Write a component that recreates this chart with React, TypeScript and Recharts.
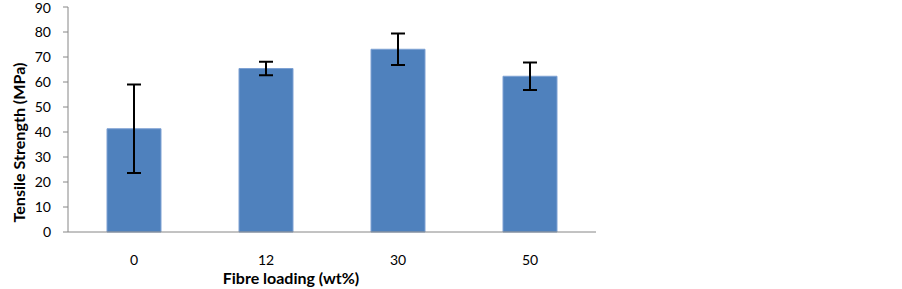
import { BarChart, Bar, XAxis, YAxis, ErrorBar } from 'recharts'

const loadings = ['0', '12', '30', '50']
const strength = [41.3, 65.4, 73.1, 62.3]
const strengthErr = [17.7, 2.7, 6.3, 5.5]
const yTicks = [0, 10, 20, 30, 40, 50, 60, 70, 80, 90]

const data = loadings.map((name, i) => ({ name, value: strength[i], err: strengthErr[i] }))

const font = 'Lato, "Open Sans", sans-serif'

// axis titles sit off-centre in the original, so draw them by hand from the viewBox
const YTitle = ({ viewBox }: any) => {
  const cx = 18
  const cy = viewBox.y + viewBox.height / 2 + 23
  return (
    <text x={cx} y={cy} transform={`rotate(-90 ${cx} ${cy})`} textAnchor="middle" dominantBaseline="central"
      fontFamily={font} fontSize={16} fontWeight="bold" fill="#000" textLength={160} lengthAdjust="spacingAndGlyphs">
      Tensile Strength (MPa)
    </text>
  )
}

const XTitle = ({ viewBox }: any) => {
  const cx = viewBox.x + viewBox.width / 2 - 41
  return (
    <text x={cx} y={284} textAnchor="middle" fontFamily={font} fontSize={16} fontWeight="bold" fill="#000">
      Fibre loading (wt%)
    </text>
  )
}

export default function App() {
  return (
    <div style={{ position: 'absolute', left: 0, top: 0, background: '#fff' }}>
      <BarChart width={902} height={289} data={data} margin={{ top: 7, right: 306, bottom: 0, left: 0 }}>
        <XAxis
          xAxisId="edge"
          type="number"
          domain={[0, 4]}
          ticks={[0, 1, 2, 3]}
          height={0}
          allowDataOverflow
          axisLine={false}
          tickSize={5}
          tickFormatter={() => ''}
          tickLine={{ stroke: '#868686' }}
        />
        <XAxis
          dataKey="name"
          height={57}
          axisLine={{ stroke: '#868686' }}
          tickLine={false}
          tickSize={0}
          tickMargin={23}
          tick={{ fill: '#000', fontSize: 14, fontFamily: font }}
          label={<XTitle />}
        />
        <YAxis
          domain={[0, 90]}
          ticks={yTicks}
          width={68}
          axisLine={{ stroke: '#868686' }}
          tickLine={{ stroke: '#868686' }}
          tickSize={5}
          tickMargin={12}
          tick={{ fill: '#000', fontSize: 14, fontFamily: font }}
          label={<YTitle />}
        />
        <Bar dataKey="value" fill="#4F81BD" stroke="#7EA1D3" strokeWidth={1} barSize={54} isAnimationActive={false}>
          <ErrorBar dataKey="err" width={7} stroke="#000" strokeWidth={2} />
        </Bar>
      </BarChart>
    </div>
  )
}
